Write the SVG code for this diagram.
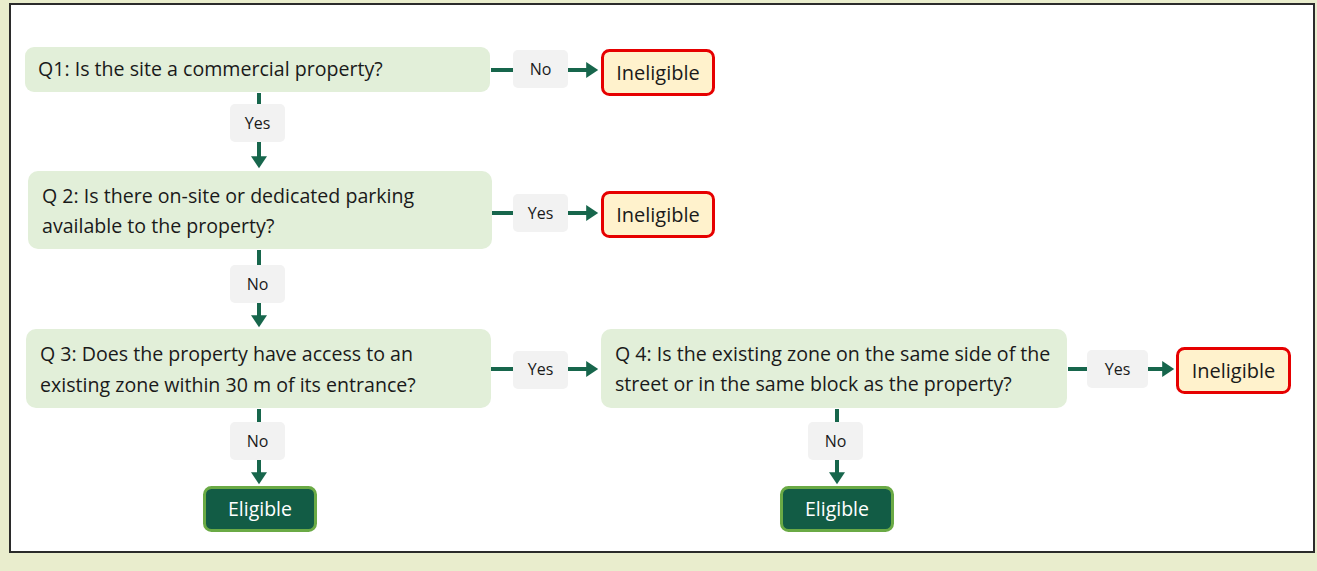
<svg xmlns="http://www.w3.org/2000/svg" width="1317" height="571" viewBox="0 0 1317 571">
<style>
.bg{fill:#E9EDCD}
.panel{fill:#FFFFFF;stroke:#2B2B2B;stroke-width:2}
.q{fill:#E2EFD9}
.qt{font-family:"Open Sans","Liberation Sans",Arial,sans-serif;font-size:19.6px;fill:#1A1A1A}
.lab{fill:#F2F2F2}
.lt{font-family:"Open Sans","Liberation Sans",Arial,sans-serif;font-size:16px;fill:#1A1A1A;text-anchor:middle}
.inel{fill:#FFF2CC;stroke:#E60000;stroke-width:3}
.it{font-family:"Open Sans","Liberation Sans",Arial,sans-serif;font-size:20px;fill:#1A1A1A;text-anchor:middle}
.elig{fill:#125C45;stroke:#6AAA45;stroke-width:3}
.et{font-family:"Open Sans","Liberation Sans",Arial,sans-serif;font-size:19.5px;fill:#FFFFFF;text-anchor:middle}
.c{stroke:#17664C;stroke-width:4;fill:none}
</style>
<defs>
<marker id="ah" markerWidth="4" markerHeight="4" refX="1.2" refY="2" orient="auto" markerUnits="strokeWidth">
<path d="M0,0 L3,2 L0,4 Z" fill="#17664C"/>
</marker>
</defs>
<rect class="bg" x="0" y="0" width="1317" height="571"/>
<rect class="panel" x="10" y="4" width="1304" height="548"/>

<g id="connectors">
<line class="c" x1="491" y1="70" x2="513" y2="70"/>
<line class="c" x1="568" y1="70" x2="591" y2="70" marker-end="url(#ah)"/>
<line class="c" x1="259" y1="93" x2="259" y2="105"/>
<line class="c" x1="259" y1="142" x2="259" y2="161" marker-end="url(#ah)"/>
<line class="c" x1="492" y1="213" x2="513" y2="213"/>
<line class="c" x1="568" y1="213" x2="591" y2="213" marker-end="url(#ah)"/>
<line class="c" x1="259" y1="250" x2="259" y2="265"/>
<line class="c" x1="259" y1="303" x2="259" y2="320" marker-end="url(#ah)"/>
<line class="c" x1="491" y1="369" x2="513" y2="369"/>
<line class="c" x1="568" y1="369" x2="591" y2="369" marker-end="url(#ah)"/>
<line class="c" x1="259" y1="409" x2="259" y2="422"/>
<line class="c" x1="259" y1="460" x2="259" y2="477" marker-end="url(#ah)"/>
<line class="c" x1="1068" y1="369" x2="1087" y2="369"/>
<line class="c" x1="1148" y1="369" x2="1167" y2="369" marker-end="url(#ah)"/>
<line class="c" x1="837" y1="409" x2="837" y2="422"/>
<line class="c" x1="837" y1="460" x2="837" y2="477" marker-end="url(#ah)"/>
</g>

<g id="q1">
<rect class="q" x="25" y="47" width="465" height="45" rx="9"/>
<text class="qt" x="38" y="76">Q1: Is the site a commercial property?</text>
</g>
<g id="q2">
<rect class="q" x="28" y="171" width="464" height="78" rx="10"/>
<text class="qt" x="42" y="203">Q 2: Is there on-site or dedicated parking</text>
<text class="qt" x="42" y="233">available to the property?</text>
</g>
<g id="q3">
<rect class="q" x="26" y="329" width="465" height="79" rx="10"/>
<text class="qt" x="40" y="361">Q 3: Does the property have access to an</text>
<text class="qt" x="40" y="392">existing zone within 30 m of its entrance?</text>
</g>
<g id="q4">
<rect class="q" x="601" y="329" width="466" height="79" rx="10"/>
<text class="qt" x="615" y="361">Q 4: Is the existing zone on the same side of the</text>
<text class="qt" x="615" y="391">street or in the same block as the property?</text>
</g>

<g id="lab-q1-no">
<rect class="lab" x="513" y="50" width="55" height="38" rx="5"/>
<text class="lt" x="540.5" y="75">No</text>
</g>
<g id="lab-q1-yes">
<rect class="lab" x="230" y="104" width="55" height="38" rx="5"/>
<text class="lt" x="257.5" y="129">Yes</text>
</g>
<g id="lab-q2-yes">
<rect class="lab" x="513" y="194" width="55" height="38" rx="5"/>
<text class="lt" x="540.5" y="219">Yes</text>
</g>
<g id="lab-q2-no">
<rect class="lab" x="230" y="265" width="55" height="38" rx="5"/>
<text class="lt" x="257.5" y="290">No</text>
</g>
<g id="lab-q3-yes">
<rect class="lab" x="513" y="351" width="55" height="38" rx="5"/>
<text class="lt" x="540.5" y="375">Yes</text>
</g>
<g id="lab-q3-no">
<rect class="lab" x="230" y="422" width="55" height="38" rx="5"/>
<text class="lt" x="257.5" y="447">No</text>
</g>
<g id="lab-q4-yes">
<rect class="lab" x="1087" y="350" width="61" height="38" rx="5"/>
<text class="lt" x="1117.5" y="375">Yes</text>
</g>
<g id="lab-q4-no">
<rect class="lab" x="808" y="422" width="55" height="38" rx="5"/>
<text class="lt" x="835.5" y="447">No</text>
</g>

<g id="inel1">
<rect class="inel" x="602.5" y="50.5" width="111" height="44" rx="7"/>
<text class="it" x="658" y="79.5">Ineligible</text>
</g>
<g id="inel2">
<rect class="inel" x="602.5" y="192.5" width="111" height="44" rx="7"/>
<text class="it" x="658" y="221.5">Ineligible</text>
</g>
<g id="inel3">
<rect class="inel" x="1177.5" y="348.5" width="112" height="44" rx="7"/>
<text class="it" x="1233.5" y="377.5">Ineligible</text>
</g>
<g id="elig1">
<rect class="elig" x="204.5" y="487.5" width="111" height="43" rx="7"/>
<text class="et" x="260" y="516">Eligible</text>
</g>
<g id="elig2">
<rect class="elig" x="781.5" y="487.5" width="111" height="43" rx="7"/>
<text class="et" x="837" y="516">Eligible</text>
</g>
</svg>
